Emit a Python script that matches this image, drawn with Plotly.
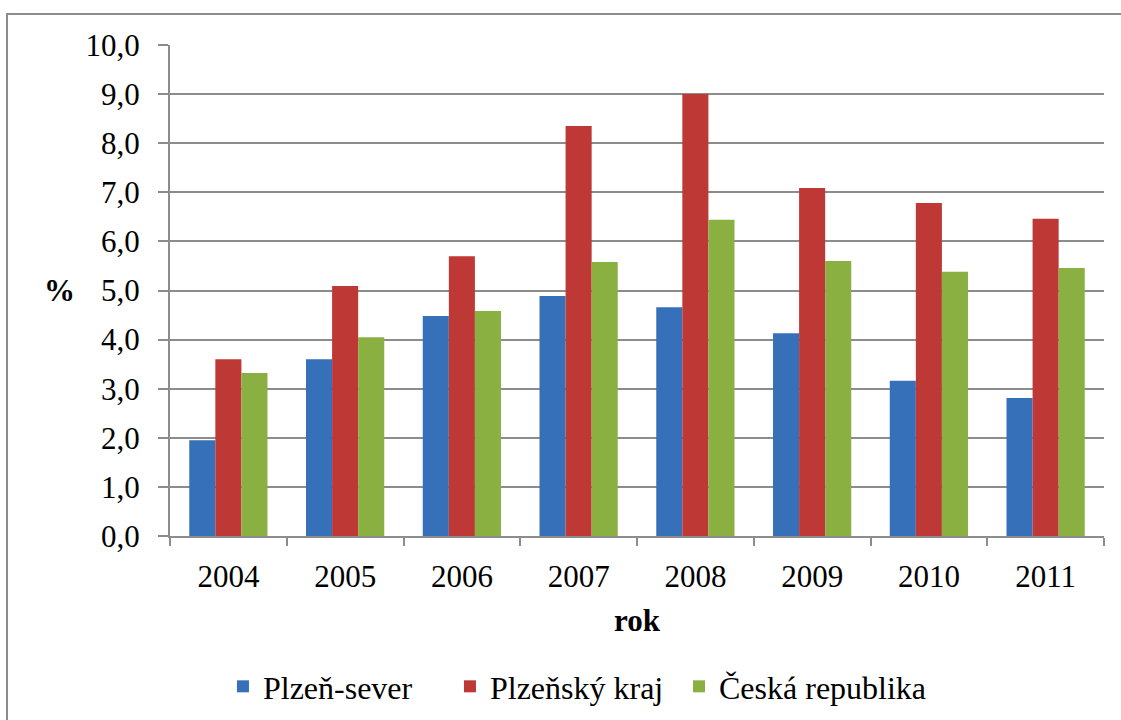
import plotly.graph_objects as go

YEARS = ["2004", "2005", "2006", "2007", "2008", "2009", "2010", "2011"]
PLZEN_SEVER = [1.95, 3.60, 4.48, 4.89, 4.66, 4.13, 3.16, 2.81]
PLZENSKY_KRAJ = [3.60, 5.09, 5.70, 8.35, 9.00, 7.09, 6.78, 6.46]
CESKA_REPUBLIKA = [3.32, 4.05, 4.58, 5.58, 6.44, 5.60, 5.38, 5.46]

# name, values, colour, which legend box it sits in
SERIES = [
    ("Plzeň-sever", PLZEN_SEVER, "#3670B8", "legend"),
    ("Plzeňský kraj", PLZENSKY_KRAJ, "#BE3836", "legend"),
    ("Česká republika", CESKA_REPUBLIKA, "#8BB042", "legend2"),
]

FONT = "Liberation Serif"
GRID = "#8C8C8C"
TEXT = {"family": FONT, "size": 31, "color": "black"}
LEGEND_FONT = {"family": FONT, "size": 32, "color": "black"}

fig = go.Figure()
for name, values, color, legend in SERIES:
    fig.add_bar(
        x=YEARS,
        y=values,
        name=name,
        legend=legend,
        marker={"color": color, "line": {"width": 0}},
    )

legend_common = {
    "orientation": "h",
    "xanchor": "left",
    "yref": "container",
    "y": 0.0847,
    "yanchor": "top",
    "font": LEGEND_FONT,
    "tracegroupgap": 0,
    "bgcolor": "rgba(0,0,0,0)",
}

fig.update_layout(
    width=1121,
    height=720,
    barmode="group",
    bargap=0.33,
    bargroupgap=0,
    separators=",.",
    paper_bgcolor="white",
    plot_bgcolor="white",
    margin={"l": 170, "r": 17, "t": 45, "b": 184, "autoexpand": False},
    font=TEXT,
    legend={**legend_common, "x": 0.0567, "entrywidth": 182, "entrywidthmode": "pixels"},
    legend2={**legend_common, "x": 0.545},
    xaxis={
        "showgrid": False,
        "showline": True,
        "linecolor": GRID,
        "linewidth": 2,
        "ticks": "outside",
        "tickson": "boundaries",
        "ticklen": 8,
        "tickcolor": GRID,
        "tickwidth": 2,
        "ticklabelstandoff": 12,
        "tickfont": TEXT,
    },
    yaxis={
        "range": [0, 10],
        "dtick": 1,
        "tickformat": ".1f",
        "showgrid": True,
        "gridcolor": GRID,
        "gridwidth": 2,
        "showline": True,
        "linecolor": GRID,
        "linewidth": 2,
        "ticks": "outside",
        "ticklen": 10,
        "tickcolor": GRID,
        "tickwidth": 2,
        "ticklabelstandoff": 12,
        "zeroline": False,
        "tickfont": TEXT,
    },
    annotations=[
        {
            "text": "<b>%</b>",
            "xref": "paper",
            "yref": "paper",
            "x": -0.118,
            "y": 0.5,
            "showarrow": False,
            "xanchor": "center",
            "yanchor": "middle",
            "font": TEXT,
        },
        {
            "text": "<b>rok</b>",
            "xref": "paper",
            "yref": "paper",
            "x": 0.5,
            "y": -0.173,
            "showarrow": False,
            "xanchor": "center",
            "yanchor": "middle",
            "font": TEXT,
        },
    ],
    shapes=[
        {
            "type": "rect",
            "xref": "paper",
            "yref": "paper",
            "x0": -0.1745,
            "x1": 1.05,
            "y0": -0.5,
            "y1": 1.063,
            "line": {"color": GRID, "width": 2},
            "fillcolor": "rgba(0,0,0,0)",
            "layer": "below",
        }
    ],
)

fig.write_html(
    "out.html",
    config={"displayModeBar": False},
    post_script="document.body.style.margin = '0';",
)
